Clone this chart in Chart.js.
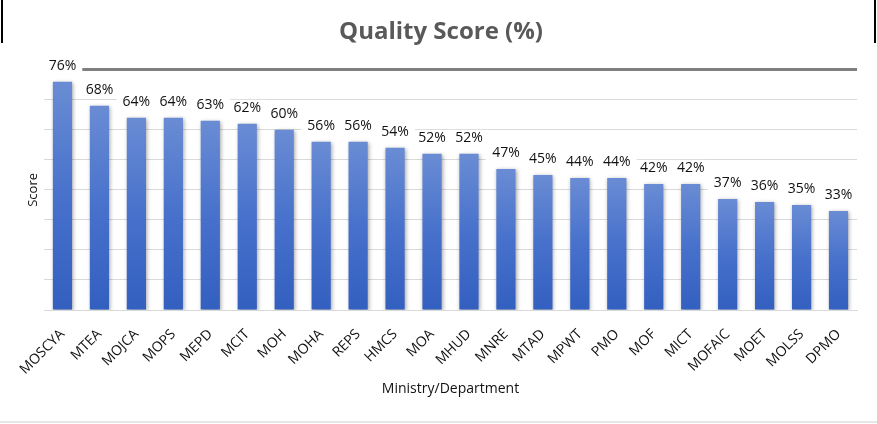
<!DOCTYPE html>
<html>
<head>
<meta charset="utf-8">
<script src="https://cdn.jsdelivr.net/npm/chart.js@4"></script>
<style>
    html, body { margin: 0; padding: 0; background: #fff; }
    #wrap { position: relative; width: 877px; height: 424px; }
    .edge { position: absolute; background: #000; }
</style>
</head>
<body>
<div id="wrap">
    <canvas id="scoreChart" width="877" height="424"></canvas>
    <div class="edge" style="left:1px; top:0; width:2px; height:43px;"></div>
    <div class="edge" style="left:874px; top:0; width:2px; height:43px;"></div>
    <div class="edge" style="left:0; top:421px; width:877px; height:2px; background:#e6e6e6;"></div>
</div>
<script>
    // Chart data
    const ministries = ['MOSCYA', 'MTEA', 'MOJCA', 'MOPS', 'MEPD', 'MCIT', 'MOH', 'MOHA', 'REPS', 'HMCS', 'MOA',
        'MHUD', 'MNRE', 'MTAD', 'MPWT', 'PMO', 'MOF', 'MICT', 'MOFAIC', 'MOET', 'MOLSS', 'DPMO'];
    const scores = [76, 68, 64, 64, 63, 62, 60, 56, 56, 54, 52, 52, 47, 45, 44, 44, 42, 42, 37, 36, 35, 33];
    const yMax = 80;
    const yStep = 10;

    const FONT = '"Open Sans", "Noto Sans", sans-serif';

    // Soft shadow behind the bars
    const barShadow = {
        id: 'barShadow',
        beforeDatasetsDraw(chart) {
            const ctx = chart.ctx;
            ctx.save();
            ctx.shadowColor = 'rgba(0, 0, 0, 0.35)';
            ctx.shadowBlur = 4;
            ctx.shadowOffsetX = 1;
            ctx.shadowOffsetY = 1;
        },
        afterDatasetsDraw(chart) {
            chart.ctx.restore();
        }
    };

    // Value labels above the bars
    const valueLabels = {
        id: 'valueLabels',
        afterDatasetsDraw(chart) {
            const ctx = chart.ctx;
            const meta = chart.getDatasetMeta(0);
            ctx.save();
            ctx.font = '14px ' + FONT;
            ctx.textAlign = 'center';
            ctx.textBaseline = 'middle';
            meta.data.forEach((bar, i) => {
                const text = scores[i] + '%';
                const w = ctx.measureText(text).width;
                const y = bar.y - 16;
                ctx.fillStyle = '#fff';
                ctx.fillRect(bar.x - w / 2 - 6, y - 8, w + 12, 16);
                ctx.fillStyle = '#111';
                ctx.fillText(text, bar.x, y);
            });
            ctx.restore();
        }
    };

    function barGradient(context) {
        const chart = context.chart;
        if (!chart.chartArea) return '#4472c4';
        const yScale = chart.scales.y;
        const top = yScale.getPixelForValue(context.raw);
        const bottom = yScale.getPixelForValue(0);
        const g = chart.ctx.createLinearGradient(0, top, 0, bottom);
        g.addColorStop(0, '#6a8cd4');
        g.addColorStop(0.5, '#4771cb');
        g.addColorStop(1, '#335fc0');
        return g;
    }

    const ctx = document.getElementById('scoreChart').getContext('2d');
    new Chart(ctx, {
        type: 'bar',
        data: {
            labels: ministries,
            datasets: [{
                label: 'Quality Score',
                data: scores,
                backgroundColor: barGradient,
                borderWidth: 0,
                barPercentage: 0.52,
                categoryPercentage: 1
            }]
        },
        options: {
            responsive: false,
            animation: false,
            layout: {
                padding: { top: 0, left: 25, right: 20, bottom: 27 }
            },
            plugins: {
                legend: { display: false },
                tooltip: { enabled: false },
                title: {
                    display: true,
                    text: 'Quality Score (%)',
                    color: '#595959',
                    font: { family: FONT, size: 24, weight: 'bold' },
                    padding: { top: 18, bottom: 23 }
                }
            },
            scales: {
                x: {
                    grid: { display: false },
                    border: { display: true, color: '#d9d9d9' },
                    ticks: {
                        color: '#111',
                        font: { family: FONT, size: 14 },
                        minRotation: 45,
                        maxRotation: 45,
                        autoSkip: false,
                        padding: 8
                    },
                    title: {
                        display: true,
                        text: 'Ministry/Department',
                        color: '#111',
                        font: { family: FONT, size: 14 },
                        padding: { top: 4, bottom: 0 }
                    },
                    afterFit(scale) { scale.height = 87; }
                },
                y: {
                    min: 0,
                    max: yMax,
                    ticks: { display: false, stepSize: yStep },
                    border: { display: false },
                    grid: {
                        color: c => c.tick.value === yMax ? '#7f7f7f' : '#d9d9d9',
                        lineWidth: c => c.tick.value === yMax ? 3 : 1,
                        drawTicks: false
                    },
                    title: {
                        display: true,
                        text: 'Score',
                        color: '#111',
                        font: { family: FONT, size: 13 },
                        padding: { top: 0, bottom: 0 }
                    },
                    afterFit(scale) { scale.width = 19; }
                }
            }
        },
        plugins: [barShadow, valueLabels]
    });
</script>
</body>
</html>
